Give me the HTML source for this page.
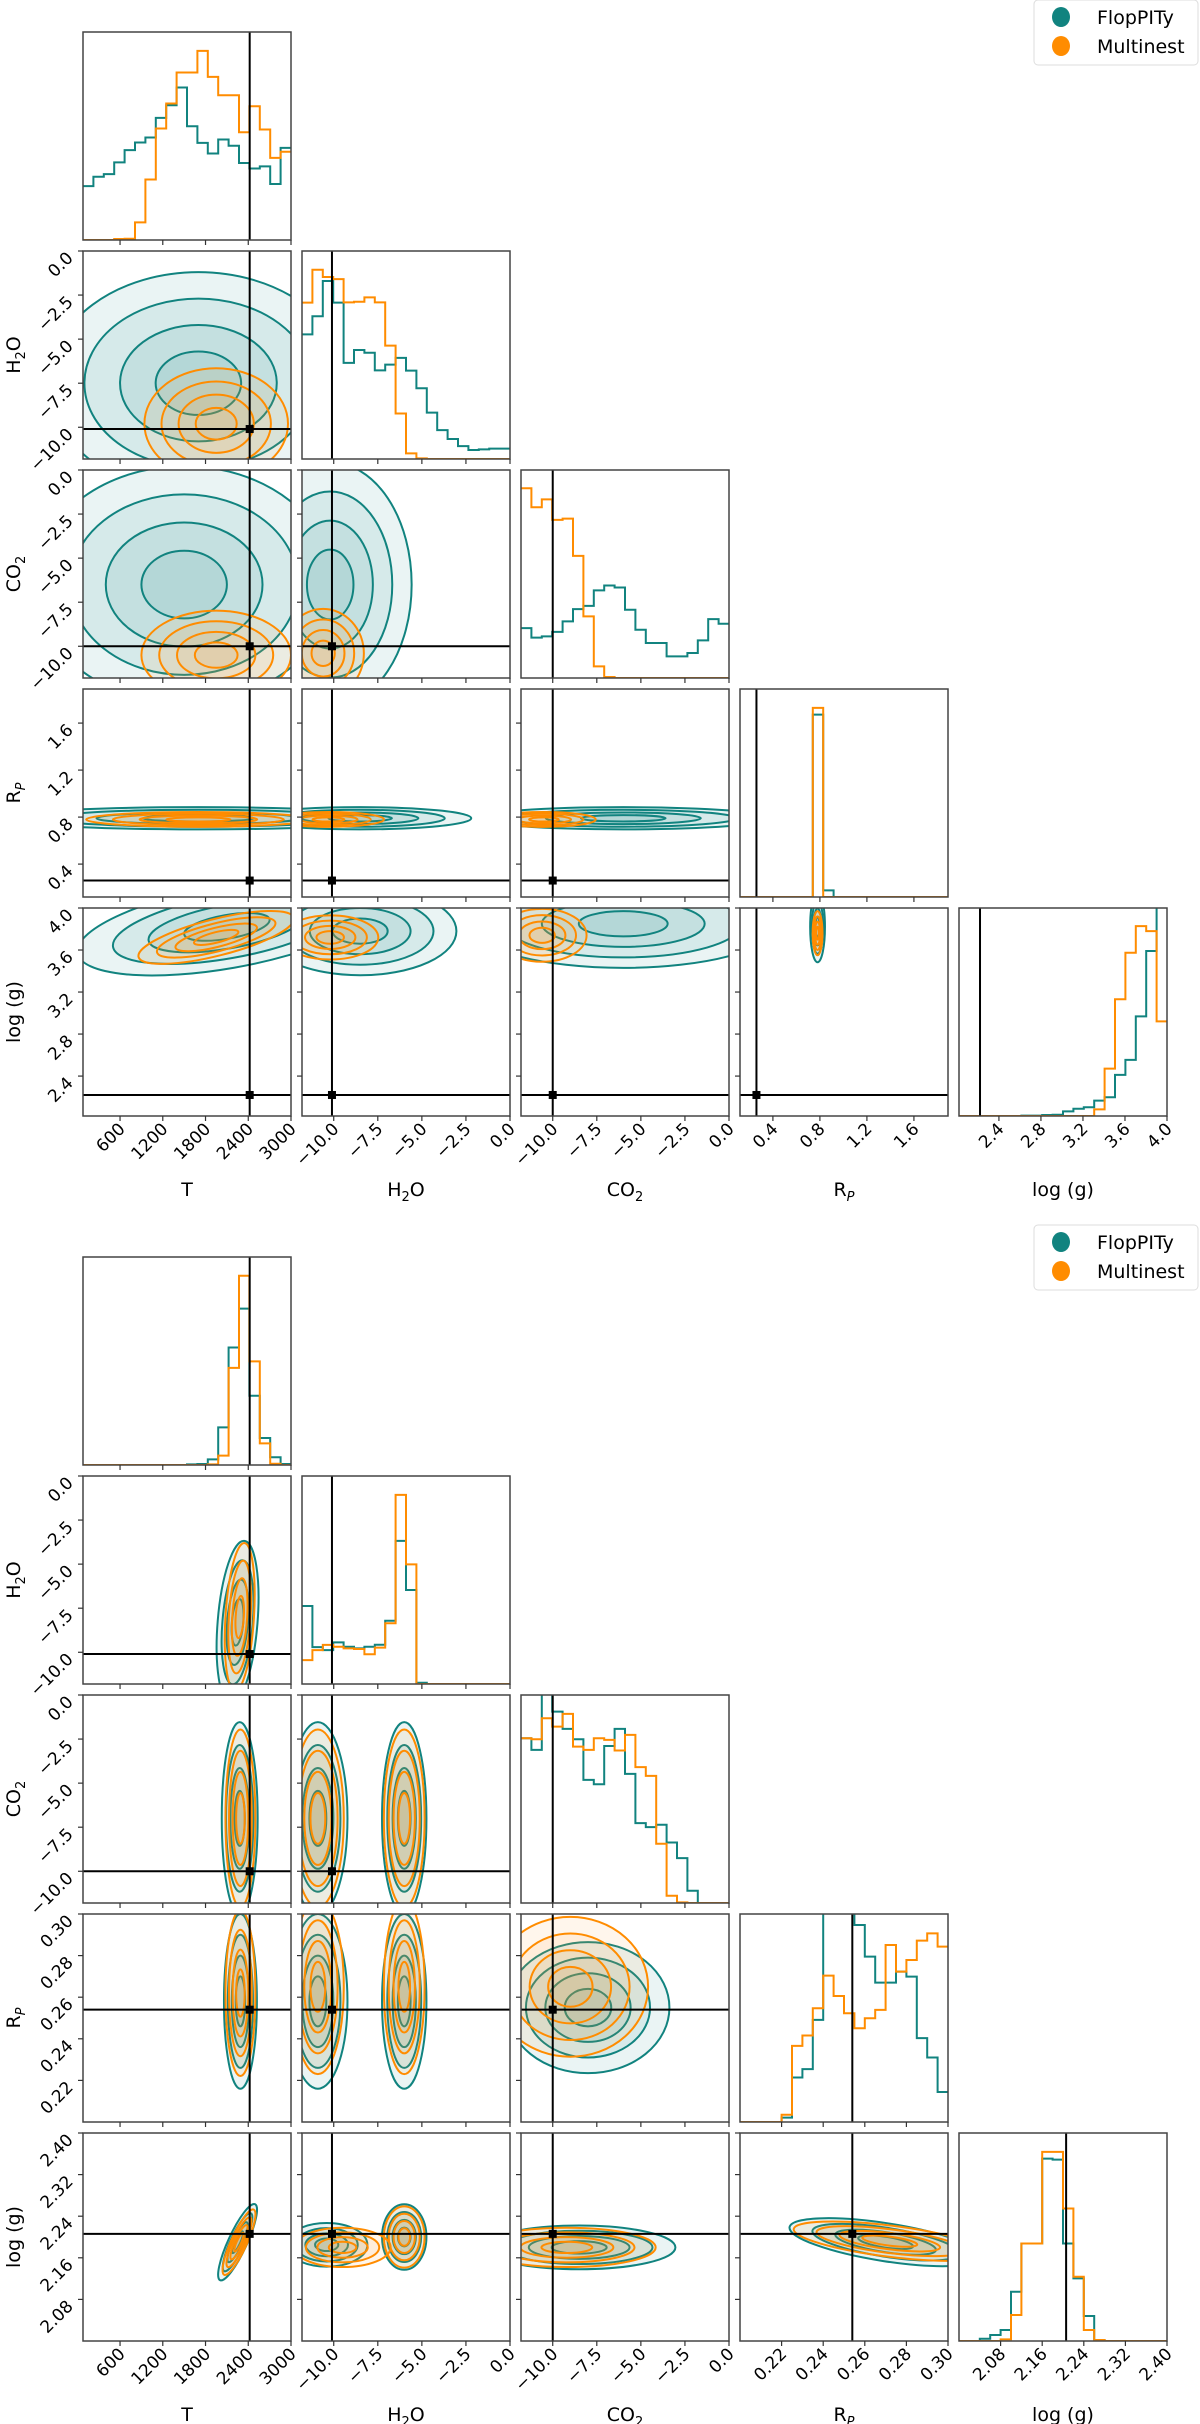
<!DOCTYPE html>
<html><head><meta charset="utf-8">
<style>
html,body{margin:0;padding:0;background:#fff;}
svg{display:block;font-family:"DejaVu Sans","Liberation Sans",sans-serif;}
</style></head>
<body>
<svg id="fig" xmlns="http://www.w3.org/2000/svg" width="1200" height="2424" viewBox="0 0 1200 2424">
<rect x="0" y="0" width="1200" height="2424" fill="#fff"/>
</svg>
<script>
const NS='http://www.w3.org/2000/svg';
const P=208, PITCH=219, X0=83;
const TEAL='#11837f', ORANGE='#ff8c00';
const plotTops=[32,1257];

// ---- axis ranges, ticks, labels ----
const ranges1=[[80,3000],[-11.8,0],[-11.8,0],[0.12,1.89],[2.02,4.0]];
const ranges2=[[80,3000],[-11.8,0],[-11.8,0],[0.2,0.3],[2.0,2.4]];
const ticks1=[[600,1200,1800,2400,3000],[-10,-7.5,-5,-2.5,0],[-10,-7.5,-5,-2.5,0],[0.4,0.8,1.2,1.6],[2.4,2.8,3.2,3.6,4.0]];
const tickLabels1=[['600','1200','1800','2400','3000'],['−10.0','−7.5','−5.0','−2.5','0.0'],['−10.0','−7.5','−5.0','−2.5','0.0'],['0.4','0.8','1.2','1.6'],['2.4','2.8','3.2','3.6','4.0']];
const ticks2=[[600,1200,1800,2400,3000],[-10,-7.5,-5,-2.5,0],[-10,-7.5,-5,-2.5,0],[0.22,0.24,0.26,0.28,0.30],[2.08,2.16,2.24,2.32,2.40]];
const tickLabels2=[['600','1200','1800','2400','3000'],['−10.0','−7.5','−5.0','−2.5','0.0'],['−10.0','−7.5','−5.0','−2.5','0.0'],['0.22','0.24','0.26','0.28','0.30'],['2.08','2.16','2.24','2.32','2.40']];
const truth1=[2420,-10.1,-10.0,0.26,2.22];
const truth2=[2420,-10.1,-10.0,0.254,2.206];

// ---- histograms (20 bins over axis range, relative height) ----
const histTeal1=[
 [.259,.304,.317,.373,.432,.469,.493,.587,.648,.733,.547,.467,.416,.483,.453,.370,.344,.354,.269,.443],
 [.599,.686,.856,.752,.462,.524,.511,.426,.454,.486,.425,.340,.223,.139,.096,.062,.043,.046,.050,.050],
 [.240,.194,.200,.222,.272,.331,.347,.421,.445,.435,.328,.232,.168,.168,.104,.104,.120,.181,.283,.261],
 [0,0,0,0,0,0,0,.877,.032,0,0,0,0,0,0,0,0,0,0,0],
 [0,0,0,0,0,0,.002,.002,.005,.006,.022,.035,.042,.074,.090,.198,.270,.479,.793,1.05]];
const histOrange1=[
 [0,0,0,.005,.006,.085,.291,.536,.656,.805,.805,.909,.784,.696,.696,.518,.643,.531,.395,.424],
 [.752,.910,.875,.865,.753,.756,.777,.753,.545,.219,.027,.003,0,0,0,0,0,0,0,0],
 [.912,.821,.859,.760,.766,.587,.296,.056,.005,0,0,0,0,0,0,0,0,0,0,0],
 [0,0,0,0,0,0,0,.909,0,0,0,0,0,0,0,0,0,0,0,0],
 [0,0,0,0,0,0,0,0,0,0,0,0,0,.032,.228,.561,.785,.913,.889,.455]];
const histTeal2=[
 [0,0,0,0,0,0,0,0,0,0,.003,.005,.027,.181,.565,.752,.333,.130,.037,.005],
 [.375,.177,.163,.200,.179,.171,.179,.189,.304,.688,.452,.006,0,0,0,0,0,0,0,0],
 [.792,.736,1.05,.92,.837,.787,.592,.571,.755,.837,.621,.384,.365,.376,.291,.216,.059,0,0,0],
 [0,0,0,0,.021,.214,.254,.491,1.05,1.05,1.05,.947,.795,.670,.670,.723,.699,.403,.310,.144],
 [0,0,.011,.029,.053,.237,.469,.469,.877,.872,.469,.301,.120,.005,0,0,0,0,0,0]];
const histOrange2=[
 [0,0,0,0,0,0,0,0,0,0,0,0,.003,.045,.467,.910,.498,.104,.006,0],
 [.115,.163,.188,.179,.171,.168,.143,.175,.292,.909,.575,0,0,0,0,0,0,0,0,0],
 [.792,.787,.888,.848,.909,.752,.736,.792,.784,.733,.808,.653,.611,.285,.035,.003,0,0,0,0],
 [0,0,0,0,.035,.366,.416,.547,.704,.606,.523,.451,.499,.539,.851,.723,.779,.872,.907,.843],
 [0,0,0,0,.008,.125,.469,.469,.909,.909,.637,.309,.053,.005,0,0,0,0,0,0]];

// ---- 2D posteriors: blobs [cx, cy, sx, sy, rho] keyed "row,col" ----
const blobsTeal1={
 '1,0':[[1700,-7.5,1000,3.0,0]],
 '2,0':[[1500,-6.5,1000,3.2,0]],
 '2,1':[[-10.2,-6.5,2.2,3.3,0]],
 '3,0':[[1700,0.79,1300,0.045,0]],
 '3,1':[[-8.5,0.79,3.0,0.045,0]],
 '3,2':[[-6,0.79,4.0,0.045,0]],
 '4,0':[[2100,3.82,1000,0.22,0.5]],
 '4,1':[[-8.5,3.78,2.6,0.2,0]],
 '4,2':[[-6,3.85,4.2,0.2,0]],
 '4,3':[[0.78,3.82,0.03,0.16,0]]};
const blobsOrange1={
 '1,0':[[1950,-9.8,480,1.5,0]],
 '2,0':[[1950,-10.5,500,1.2,0]],
 '2,1':[[-10.6,-10.4,1.1,1.2,0]],
 '3,0':[[1700,0.78,750,0.03,0]],
 '3,1':[[-10.3,0.78,1.5,0.03,0]],
 '3,2':[[-10.5,0.78,1.4,0.03,0]],
 '4,0':[[1950,3.72,520,0.12,0.7]],
 '4,1':[[-10.2,3.72,1.3,0.1,0]],
 '4,2':[[-10.6,3.74,1.2,0.12,0]],
 '4,3':[[0.78,3.76,0.02,0.1,0]]};
const blobsTeal2={
 '1,0':[[2250,-8.3,140,2.2,0.3]],
 '2,0':[[2280,-7,120,2.6,0]],
 '2,1':[[-10.9,-7,0.8,2.6,0],[-6,-7,0.6,2.6,0]],
 '3,0':[[2290,0.258,110,0.02,0]],
 '3,1':[[-10.9,0.258,0.8,0.02,0],[-6,0.258,0.6,0.02,0]],
 '3,2':[[-8,0.255,2.2,0.015,0]],
 '4,0':[[2250,2.19,130,0.035,0.85]],
 '4,1':[[-10.4,2.185,1.1,0.02,0],[-6,2.2,0.6,0.03,0]],
 '4,2':[[-8.5,2.18,2.6,0.02,0]],
 '4,3':[[0.27,2.19,0.022,0.022,-0.6]]};
const blobsOrange2={
 '1,0':[[2280,-8,100,2.0,0.3]],
 '2,0':[[2290,-7,100,2.4,0]],
 '2,1':[[-10.9,-7,0.7,2.4,0],[-6,-7,0.55,2.4,0]],
 '3,0':[[2290,0.262,100,0.019,0]],
 '3,1':[[-10.9,0.265,0.7,0.02,0],[-6,0.265,0.55,0.02,0]],
 '3,2':[[-9,0.265,2.1,0.016,0]],
 '4,0':[[2270,2.19,110,0.03,0.85]],
 '4,1':[[-9.5,2.18,1.3,0.018,0],[-6,2.2,0.55,0.028,0]],
 '4,2':[[-9.2,2.18,2.4,0.018,0]],
 '4,3':[[0.272,2.192,0.022,0.018,-0.6]]};

const svg=document.getElementById('fig');
function mk(tag,attrs,parent){const e=document.createElementNS(NS,tag);for(const k in attrs)e.setAttribute(k,attrs[k]);(parent||svg).appendChild(e);return e;}
let clipId=0;

function axLabel(i,parent,x,y,rot,name){
  const t=mk('text',{x:x,y:y,'font-size':19,'text-anchor':'middle',fill:'#000'},parent);
  
  
  if(rot)t.setAttribute('transform','rotate(-90 '+x+' '+y+')');
  if(i===1){t.appendChild(document.createTextNode('H'));const s=mk('tspan',{'font-size':13,dy:5},t);s.textContent='2';const o=mk('tspan',{dy:-5},t);o.textContent='O';}
  else if(i===2){t.appendChild(document.createTextNode('CO'));const s=mk('tspan',{'font-size':13,dy:5},t);s.textContent='2';}
  else if(i===3){t.appendChild(document.createTextNode('R'));const s=mk('tspan',{'font-size':13,dy:5,'font-style':'italic'},t);s.textContent='P';}
  else t.textContent=i===0?'T':'log (g)';
}

function drawCorner(pi){
  const top=plotTops[pi];
  const ranges=pi?ranges2:ranges1, ticks=pi?ticks2:ticks1, tl=pi?tickLabels2:tickLabels1;
  const truth=pi?truth2:truth1;
  const hT=pi?histTeal2:histTeal1, hO=pi?histOrange2:histOrange1;
  const bT=pi?blobsTeal2:blobsTeal1, bO=pi?blobsOrange2:blobsOrange1;
  const g=mk('g',{});
  
  
  for(let r=0;r<5;r++)for(let c=0;c<=r;c++){
    const L=X0+c*PITCH, T=top+r*PITCH, R=L+P, B=T+P;
    const xs=v=>L+(v-ranges[c][0])/(ranges[c][1]-ranges[c][0])*P;
    const ys=v=>B-(v-ranges[r][0])/(ranges[r][1]-ranges[r][0])*P;
    const pg=mk('g',{},g);
    
    
    const cid='c'+(clipId++);
    const cp=mk('clipPath',{id:cid},pg);mk('rect',{x:L,y:T,width:P,height:P},cp);
    const inner=mk('g',{'clip-path':'url(#'+cid+')'},pg);
    if(r===c){
      [[hT[c],TEAL,'hist-floppity'],[hO[c],ORANGE,'hist-multinest']].forEach(([arr,col,nm])=>{
        const n=arr.length;let d='';
        for(let k=0;k<n;k++){
          const x1=L+k*P/n, x2=L+(k+1)*P/n, y=B-arr[k]*P;
          d+=(k===0?'M'+x1+','+y:' V'+y)+' H'+x2;
        }
        const p=mk('path',{d:d,fill:'none',stroke:col,'stroke-width':2},inner);
        
        
      });
      const tv=mk('line',{x1:xs(truth[c]),x2:xs(truth[c]),y1:T,y2:B,stroke:'#000','stroke-width':2},inner);
      
      
    } else {
      const kx=P/(ranges[c][1]-ranges[c][0]), ky=P/(ranges[r][1]-ranges[r][0]);
      [[bT,TEAL,'#1a8a86','contours-floppity'],[bO,ORANGE,'#ff9a2e','contours-multinest']].forEach(([bs,col,fcol,nm])=>{
        const blobs=bs[r+','+c]||[];
        const cg=mk('g',{},inner);
        
        
        blobs.forEach(b=>{
          const sxp=b[2]*kx, syp=b[3]*ky, a=sxp*sxp, dd=syp*syp, bb=-b[4]*sxp*syp;
          const m=(a+dd)/2, q=Math.sqrt(((a-dd)/2)**2+bb*bb);
          const l1=m+q, l2=Math.max(m-q,0.5);
          const ang=0.5*Math.atan2(2*bb,a-dd)*180/Math.PI;
          const cx=xs(b[0]), cy=ys(b[1]);
          [2.1,1.6,1.1,0.6].forEach((k,li)=>{
            const e=mk('ellipse',{cx:cx,cy:cy,rx:k*Math.sqrt(l1),ry:k*Math.sqrt(l2),transform:'rotate('+ang+' '+cx+' '+cy+')',fill:fcol,'fill-opacity':0.09,stroke:col,'stroke-width':2},cg);
            
            
          });
        });
      });
      const tx=xs(truth[c]), ty=ys(truth[r]);
      const l1=mk('line',{x1:tx,x2:tx,y1:T,y2:B,stroke:'#000','stroke-width':2},inner);
      
      
      const l2=mk('line',{x1:L,x2:R,y1:ty,y2:ty,stroke:'#000','stroke-width':2},inner);
      
      
      const sq=mk('rect',{x:tx-4,y:ty-4,width:8,height:8,fill:'#000'},inner);
      
      
    }
    const fr=mk('rect',{x:L,y:T,width:P,height:P,fill:'none',stroke:'#444','stroke-width':1.5},pg);
    
    
    ticks[c].forEach((v,ti)=>{
      const x=xs(v);
      const tk=mk('line',{x1:x,x2:x,y1:B,y2:B+5,stroke:'#333','stroke-width':1.2},pg);
      
      
      if(r===4){
        const t=mk('text',{'font-size':17,'text-anchor':'end',transform:'translate('+(x+6)+','+(B+14)+') rotate(-45)',fill:'#000'},pg);
        
        
        t.textContent=tl[c][ti];
      }
    });
    if(r!==c){
      ticks[r].forEach((v,ti)=>{
        const y=ys(v);
        const tk=mk('line',{x1:L-5,x2:L,y1:y,y2:y,stroke:'#333','stroke-width':1.2},pg);
        
        
        if(c===0){
          const t=mk('text',{'font-size':17,'text-anchor':'end',transform:'translate('+(L-9)+','+(y+8)+') rotate(-45)',fill:'#000'},pg);
          
          
          t.textContent=tl[r][ti];
        }
      });
    }
  }
  for(let i=0;i<5;i++){
    axLabel(i,g,X0+i*PITCH+P/2,top+4*PITCH+P+80,false,'x-axis-title');
    if(i>0)axLabel(i,g,20,top+i*PITCH+P/2,true,'y-axis-title');
  }
  const ly=top-32;
  const lg=mk('g',{},g);
  
  
  mk('rect',{x:1034,y:ly,width:164,height:65,rx:4,fill:'#fff',stroke:'#ddd','stroke-width':1},lg);
  [[TEAL,'FlopPITy',17],[ORANGE,'Multinest',46]].forEach(([col,txt,dy])=>{
    const e=mk('ellipse',{cx:1061,cy:ly+dy,rx:9,ry:10,fill:col},lg);
    
    
    const t=mk('text',{x:1097,y:ly+dy+7,'font-size':19,fill:'#000'},lg);
    
    
    t.textContent=txt;
  });
}
drawCorner(0);
drawCorner(1);
</script>
</body></html>
